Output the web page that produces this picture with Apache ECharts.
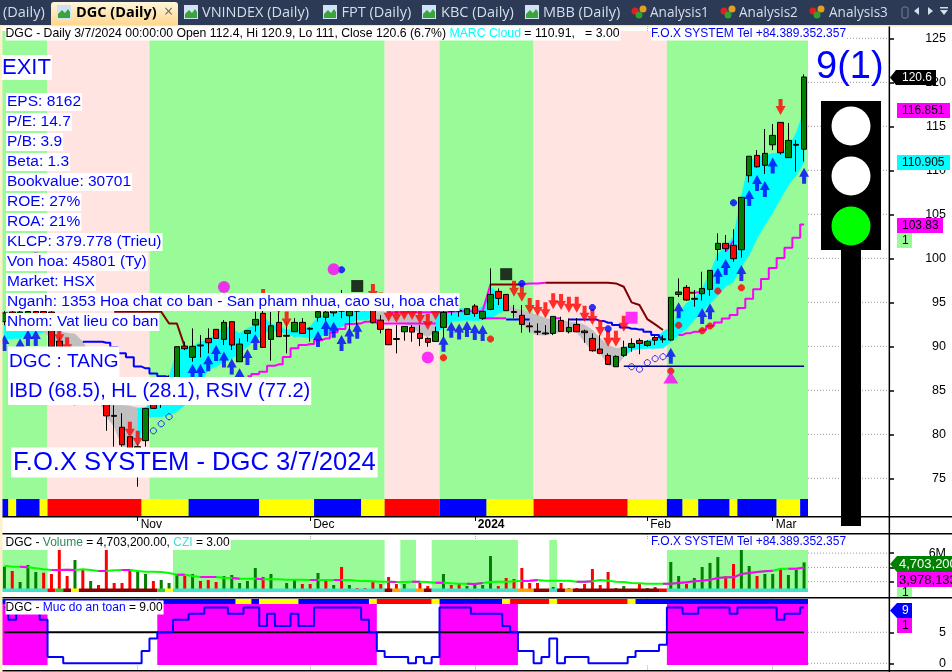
<!DOCTYPE html>
<html><head><meta charset="utf-8">
<style>html,body{margin:0;padding:0;background:#fff}#c{width:952px;height:672px}</style>
<script src="https://cdn.jsdelivr.net/npm/echarts@6/dist/echarts.min.js"></script>
</head><body><div id="c"></div>
<script>
const tradingDays = [
'2023-10-09','2023-10-10','2023-10-11','2023-10-12','2023-10-13','2023-10-16','2023-10-17','2023-10-18','2023-10-19','2023-10-20',
'2023-10-23','2023-10-24','2023-10-25','2023-10-26','2023-10-27','2023-10-30','2023-10-31','2023-11-01','2023-11-02','2023-11-03',
'2023-11-06','2023-11-07','2023-11-08','2023-11-09','2023-11-10','2023-11-13','2023-11-14','2023-11-15','2023-11-16','2023-11-17',
'2023-11-20','2023-11-21','2023-11-22','2023-11-23','2023-11-24','2023-11-27','2023-11-28','2023-11-29','2023-11-30','2023-12-01',
'2023-12-04','2023-12-05','2023-12-06','2023-12-07','2023-12-08','2023-12-11','2023-12-12','2023-12-13','2023-12-14','2023-12-15',
'2023-12-18','2023-12-19','2023-12-20','2023-12-21','2023-12-22','2023-12-25','2023-12-26','2023-12-27','2023-12-28','2023-12-29',
'2024-01-02','2024-01-03','2024-01-04','2024-01-05','2024-01-08','2024-01-09','2024-01-10','2024-01-11','2024-01-12','2024-01-15',
'2024-01-16','2024-01-17','2024-01-18','2024-01-19','2024-01-22','2024-01-23','2024-01-24','2024-01-25','2024-01-26','2024-01-29',
'2024-01-30','2024-01-31','2024-02-01','2024-02-02','2024-02-05','2024-02-06','2024-02-07','2024-02-15','2024-02-16','2024-02-19',
'2024-02-20','2024-02-21','2024-02-22','2024-02-23','2024-02-26','2024-02-27','2024-02-28','2024-02-29','2024-03-01','2024-03-04',
'2024-03-05','2024-03-06','2024-03-07'];
const blankFutureDays = ['2024-03-08','2024-03-11','2024-03-12','2024-03-13','2024-03-14','2024-03-15','2024-03-18','2024-03-19','2024-03-20','2024-03-21'];
const monthLabels = {'2023-11-01':'Nov','2023-12-01':'Dec','2024-01-02':'2024','2024-02-01':'Feb','2024-03-01':'Mar'};
const priceTicks = [75,80,85,90,95,100,105,110,115,120,125];
const volumeTicks = [2000000,4000000,6000000];
const safetyTicks = [0,5];

// [open, close, low, high]
const candles = [
[92.8,93.8,92.4,94],[93.9,93.2,92.9,94.1],[93.1,93.9,92.8,94.1],[93.2,93.95,92.9,94.2],[93.95,93.4,93,94.1],
[93.95,92.9,92.5,94.1],[93.9,89.96,89.7,94],[90.6,88.9,88.5,91],[89.2,88,87.4,89.8],[88.4,86.5,83.3,89],
[86.7,85.2,85,87],[86.7,85,84.6,87],[86.7,84.6,84,87],[86.7,82.1,80.4,87],[82.15,82.05,78.6,83.3],
[80.8,78.82,78.6,82.4],[79.73,78.2,78,79.8],[78.6,78,74.05,79],[79.28,82.95,78.6,83],[83.4,82.95,82.9,83.5],
[84,85.8,83,86],[84.5,86,83.5,86.7],[85.5,89.96,85,90],[90.03,89.73,89.58,90.53],[88.75,90,88.25,92.04],
[90.05,90.15,88.75,91.28],[90.9,90.41,89.2,92.04],[91.93,90.9,90.9,91.93],[90.79,92.72,90.15,92.99],[92.8,90.15,89.58,92.8],
[88.25,90.26,88.25,90.9],[91.47,91.78,90.53,91.8],[92.42,93.06,91.66,93.94],[93.75,89.88,89.88,94.12],[90.79,92.34,88.37,93.9],
[92.72,91.1,91.1,94.12],[91.25,91.15,89.2,92.8],[91.66,92.72,91.66,93.2],[92.72,91.47,91.4,93.2],[91.95,92.05,90.53,92.15],
[93.3,93.94,92.8,94.5],[93.3,93.9,92.9,94.3],[93.8,95,93.4,95.8],[94,95.3,93.2,96.4],[93.48,94,91.85,94.5],
[94,94.3,92.4,95],[95,94.4,94,95.4],[94.9,92.68,92.6,96],[92.98,91.93,91.47,93.55],[91.93,90.18,90.18,92],
[90.88,90.78,89.2,92.42],[91.66,92.27,90.64,92.3],[92.15,91.62,90.52,92.42],[91.47,90.9,90.03,92.42],[90.9,90.45,89.95,91],
[90.56,91.66,90.52,92.23],[92.15,93.86,91,96],[94,94.3,93.5,94.8],[94.1,94,93.36,94.69],[93.63,94.27,93.6,94.3],
[94.58,93.74,93.36,94.8],[93.18,93.97,93,94],[94.2,95.9,94.1,98.86],[96.24,95.45,94.69,96.58],[95.9,94.05,94.05,95.9],
[93.95,93.85,93.18,94.69],[93.52,92.49,91.55,94.69],[92.32,92.22,91.58,92.72],[91.71,91.61,91.28,92.6],[91.52,91.42,91.28,92.42],
[91.47,93.4,91.28,93.4],[92.95,91.7,91.66,93.36],[91.66,92.15,91.47,93.18],[92.49,91.66,91.6,93.2],[91.74,91.55,90.4,91.9],
[90.9,89.5,89.39,91.47],[89.69,89.2,89.1,91.28],[88.97,87.95,87.87,89.2],[87.68,88.86,87.68,88.97],[88.97,89.88,88.8,90.64],
[89.88,90.33,89.39,90.9],[90.67,90.33,89.1,90.9],[90.1,90.56,89.95,90.7],[91,90.7,90.14,91.28],[90.85,90.75,90.4,91.28],
[90.72,95.57,90.65,95.57],[95.9,96.17,95.6,97.72],[96.7,95.26,95.15,96.96],[95.45,95.35,94.5,96.4],[95.98,96.58,95.2,98.48],
[96.47,98.63,95.75,98.63],[101,101.7,99.73,102.84],[101.7,101.1,100.75,102.65],[101.48,99.96,99.6,103.3],[100.98,106.93,100.07,106.93],
[109.39,111.6,108.63,111.6],[111.7,110.4,110.3,112.3],[110.57,111.93,109.58,114.7],[112.9,113.97,112.3,115.26],[115.45,112,111.8,115.45],
[111.44,113.4,111.44,115.375],[112.95,112.85,109.85,113.44],[112.4,120.6,111,120.9]];

const cloudHigh = [92.5,92.6,92.8,93,93,92.5,91.7,91.7,91.5,91.4,90.5,89,87,84.5,83.3,83.3,83.2,83,83,84,85,86.5,89.5,89.9,
89.96,90.53,90.72,91.47,92.23,92.04,91.47,92.04,92.42,93.37,92.6,92.23,91.85,91.93,91.93,92.23,93.37,93.56,93.75,
94.31,94.31,94.31,94.31,93.93,93.85,93.85,93.85,93.85,93.85,93.85,93.85,93.74,93.93,94.12,94.31,94.31,94.12,94.5,96.77,96,94.88,94.31,94.12,93.82,93.55,93.18,92.99,92.92,92.8,92.68,92.42,91.85,90.9,90.14,89.77,89.88,90.07,90.41,90.64,90.9,91.66,92.2,93.75,94.9,95.45,96.6,98.3,100.56,101.3,102.5,107,111,111.55,111.7,111.9,112,112.7,114.2,116.85];
const cloudLow = [90.8,90.9,90.9,91.3,91.4,91.6,91,90,89.5,89,88,86,84,82,80.9,78.6,78.6,78.6,81.8,82,82,82.2,82.6,83.3,84.3,85.8,87.3,87.7,88.25,88.6,89.2,89.96,90.7,91.47,91.85,91.66,91.47,91.1,91.1,90.9,91.1,91.3,91.5,
92.23,92.6,93,93,93.18,93,92.8,92.8,92.6,92.23,91.47,91.09,91.66,92.04,92.8,92.92,92.99,92.92,92.99,93.18,93.7,94.2,93.55,92.6,91.66,91.28,91.28,91.47,91.66,91.66,91.66,90.52,89.5,89.2,87.87,87.68,88.82,89.58,89.7,89.77,89.77,89.8,90.5,91.3,92,93,93.9,94.9,95.8,96.8,97.35,99.05,100.4,102.27,103.8,105.2,106.8,108.33,109.47,110.9];
// first bar, last bar, colour of the cloud
const cloudTrend = [[0,5,'#00FFFF'],[6,17,'#C0C0C0'],[18,47,'#00FFFF'],[48,55,'#C0C0C0'],[56,64,'#00FFFF'],[65,79,'#C0C0C0'],[80,102,'#00FFFF']];

// trailing support line, [bar, price]
const supportBlue = [[10,90.53],[11,90.53],[12,90.53],[13,90.4],[14,89.9],[15,89.2],[16,88.75],[17,87.7],[18,87.5],[19,86.9],[20,86.6],[21,86.5],null,
[64,93.06],[65,93.06],[66,93.06],[67,93.06],null,[72,93.06],[73,93.06],[74,93.06],[75,93.06],[76,92.87],[77,92.68],[78,92.42],[79,92.15],[80,92],[81,91.9],[82,91.66],[83,91.28],[84,91]];
const supportMagenta = [[31,86.6],[32,86.85],[33,87.1],[34,87.8],[35,87.95],[36,88.8],[37,89.77],[38,90.15],[39,90.26],[40,90.7],[41,90.9],[42,91.6],[43,91.96],[44,92.53],[45,92.6],[46,92.8],[47,93],[48,92.6],[49,92.6],[50,92.6],[51,92.6],[52,92.6],[53,92.6],[54,92.6],[55,92.6],null,
[61,93.18],[62,93.18],[63,93.18],[64,93.18],null,[70,93.18],[71,93.18],null,
[86,91.3],[87,91.5],[88,91.65],[89,91.85],[90,92.3],[91,92.7],[92,93.15],[93,93.55],[94,94.35],[95,95.4],[96,96.5],[97,97.65],[98,98.9],[99,100.05],[100,101.2],[101,102.35],[102,103.83]];
// stop line above the price, [bar, price]
const stopMaroon = [[14,93.93],[15,93.93],[16,93.93],[17,93.93],[18,93.93],[19,93.93],[20,93.93],[21,92.6],[22,92.6],[23,89.96],null,
[62,97.04],[63,97.04],[64,97.04],[65,97.04],[66,97.04],null,[69,97.23],[70,97.23],[71,97.23],[72,97.23],[73,97.23],[74,97.23],[75,97.23],[76,97.23],[77,97.23],[78,97.15],[79,96.77],[80,94.99],[81,94.69],[82,93.1],[83,92.5],[84,91.85],null,[87,96.1],[88,96.1]];
const stopMagenta = [[49,93.86],[50,93.86],[51,93.86],[52,93.86],[53,93.86],[54,93.86],[55,93.86],[56,93.86],[57,93.93],[58,94],[59,94],[60,94],[61,94],[62,97.04],null,[66,97.04],[67,97.15],[68,97.15],[69,97.23],null,[88,96.1],[89,96.2],null,[92,100.75],[93,102]];
const floorLine = [[79,87.75],[102,87.75]];

// marks: [bar, price]
const blueUpArrows = [[0,91.28],[2,90.9],[3,91.85],[4,91.85],[24,87.99],[25,87.99],[26,89],[27,90.15],[28,89.4],[29,88.63],[30,87.5],[31,89.69],[32,91.4],[40,91.74],[41,92.99],[42,92.8],[43,91.28],[44,92.15],[45,92.68],[56,91.2],[57,92.8],[58,92.6],[59,92.87],[60,92.53],[61,92.42],[85,89.85],[86,95],[89,94.35],[90,94.9],[91,98.93],[92,99.92],[94,99.24],[95,107.76],[96,109.47],[97,108.78],[98,111.47],[102,110.3]];
const redDownArrows = [[7,90.34],[8,89.2],[16,79.6],[17,78.6],[33,94.69],[35,93.73],[36,92.15],[47,95.26],[48,94.3],[49,92.8],[50,92.68],[51,93],[52,93],[53,92.53],[54,91.85],[55,93],[65,95.64],[66,95.07],[67,93.67],[68,93.44],[69,93.18],[70,94.2],[71,94.12],[72,93.82],[73,93.82],[74,92.8],[75,92.42],[76,91.17],[77,89.95],[78,89.95],[79,91.66],[99,116.28]];
const redDiamonds = [[56,88.7],[62,90.83],[85,87.19],[86,92.4],[89,91.77],[90,92.3],[91,96.28],[94,96.66]];
const blueDiamonds = [[43,98.7],[66,97.15],[75,94.42],[77,92],[93,106.32]];
const hollowDiamonds = [[19,80.4],[20,81.2],[21,82],[80,87.68],[81,87.4],[82,88.14],[83,88.6],[84,88.82]];
const magentaCircles = [[4,100],[28,96.75],[42,98.75],[54,88.74]];
const blackSquares = [[45,96.85],[64,98.2]];
const magentaSquares = [[80,93.25]];
const magentaTriangles = [[85,86.47]];

// background bands: first bar, last bar, colour
const trendBands = [[0,5,'#98FB98'],[6,18,'#FFE4E1'],[19,48,'#98FB98'],[49,55,'#FFE4E1'],[56,67,'#98FB98'],[68,84,'#FFE4E1'],[85,102,'#98FB98']];
const signalStrip = [[0,0,'#0000FF'],[1,1,'#FFFF00'],[2,4,'#0000FF'],[5,5,'#FFFF00'],[6,17,'#FF0000'],[18,23,'#FFFF00'],[24,32,'#0000FF'],[33,39,'#FFFF00'],[40,45,'#0000FF'],[46,48,'#FFFF00'],[49,55,'#FF0000'],[56,61,'#0000FF'],[62,67,'#FFFF00'],[68,79,'#FF0000'],[80,84,'#FFFF00'],[85,86,'#0000FF'],[87,88,'#FFFF00'],[89,92,'#0000FF'],[93,93,'#FFFF00'],[94,98,'#0000FF'],[99,101,'#FFFF00'],[102,102,'#0000FF']];

const volume = [4100000,3500000,1960000,4340000,3360000,3260000,3080000,6430000,2800000,5030000,
3780000,2100000,1540000,6430000,1820000,1820000,3780000,3500000,3080000,2100000,
2240000,1820000,3080000,2800000,3080000,2100000,2240000,1960000,2800000,2940000,
1820000,2100000,3920000,2660000,3080000,840000,1820000,2380000,1680000,1680000,
3220000,2100000,1540000,4060000,1540000,1120000,1120000,1960000,1680000,2660000,
1680000,1680000,980000,1820000,1400000,980000,3080000,1540000,1680000,1400000,
1680000,1540000,5590000,1400000,2520000,2380000,3920000,1820000,1820000,840000,
1260000,1820000,1120000,1120000,1680000,3780000,1540000,3360000,1120000,1400000,
840000,1680000,1120000,1260000,840000,4760000,2800000,1680000,2520000,4060000,
4620000,5450000,2800000,4480000,6430000,4200000,2800000,3080000,3080000,3920000,
2940000,3640000,4703200];
const volumeSide = 'grgggrrrrg'+'rgrrrrrggr'+'gggrgrrrgg'+'gggrgrggrr'+'grgrgrrrrr'+'rgrrrggrrg'+'gggrrrrrrg'+'grgrrrrrgg'+'grgrrggrgg'+'ggrrggrggr'+'ggg';
const volumeAvg = [4240000,4100000,4100000,4010000,3870000,3730000,3640000,3640000,3680000,3640000,
3730000,3640000,3500000,3500000,3590000,3640000,3640000,3500000,3400000,3400000,
3360000,3220000,2980000,2980000,2800000,2660000,2660000,2660000,2560000,2520000,
2420000,2420000,2420000,2330000,2330000,2330000,2280000,2280000,2280000,2240000,
2240000,2240000,2240000,2240000,2240000,2140000,2100000,2050000,2000000,2000000,
1960000,1960000,2000000,2000000,1960000,1860000,1860000,1770000,1720000,1720000,
1680000,1820000,1960000,2000000,2000000,2050000,2100000,2140000,2240000,2140000,
2140000,2140000,2140000,2000000,2000000,2050000,2240000,2140000,2000000,1960000,
1820000,1770000,1720000,1720000,1720000,1720000,1820000,1910000,2050000,2140000,
2280000,2520000,2610000,2610000,3080000,3220000,3360000,3450000,3540000,3820000,
3820000,3820000,3978133];
const volumeAvgMagentaRuns = [[2,3],[6,9],[12,13],[15,16],[22,23],[25,27],[29,30],[32,33],[39,40],[42,43],[49,50],[52,53],[55,56],[59,61],[66,68],[73,75],[84,92],[93,98],[100,102]];
// first bar, last bar, top of the band in shares
const volumeBands = [[0,5,6430000],[22,48,7830000],[51,52,7830000],[55,65,7830000],[70,70,7830000],[85,102,6430000]];
const cziStrip = [[0,5,'#40E0D0'],[6,6,'#FF0000'],[7,7,'#32CD32'],[8,8,'#8B0000'],[9,9,'#FFFF00'],[10,19,'#8B0000'],[20,20,'#32CD32'],[21,21,'#FFFF00'],[22,48,'#40E0D0'],[49,49,'#8B0000'],[50,50,'#FFA500'],[51,52,'#40E0D0'],[53,53,'#FFA500'],[54,54,'#8B0000'],[55,65,'#40E0D0'],[66,67,'#FFA500'],[68,69,'#8B0000'],[70,70,'#40E0D0'],[71,71,'#8B0000'],[72,72,'#FFA500'],[73,83,'#8B0000'],[84,84,'#FF0000'],[85,102,'#40E0D0']];

const safety = [9,7,9,9,9,7,1,1,0,0,0,0,0,0,0,0,0,0,2,4,5,5,7,7,8,8,9,9,9,8,8,9,9,6,8,6,6,8,6,6,9,9,9,9,9,9,7,5,2,1,1,1,0,1,0,1,9,9,9,9,8,8,8,8,6,5,2,2,0,1,4,0,1,1,1,0,0,0,0,0,1,2,2,2,3,9,9,8,8,9,9,9,9,8,9,9,9,9,9,7,8,8,9];
const safetyLevel = [[0,5],[102,5]];
const safetyBands = [[0,5],[20,47],[56,65],[85,102]];
const safetyStrip = [[0,19,'#0000FF'],[20,29,'#0000FF'],[30,31,'#FFFF00'],[32,32,'#0000FF'],[33,37,'#FFFF00'],[38,46,'#0000FF'],[47,47,'#FFFF00'],[48,54,'#FF0000'],[55,55,'#FFFF00'],[56,63,'#0000FF'],[64,64,'#FFFF00'],[65,69,'#FF0000'],[70,70,'#FFFF00'],[71,79,'#FF0000'],[80,80,'#FFFF00'],[81,102,'#0000FF']];

const fontName = '"Liberation Sans", Arial, sans-serif';
const categories = tradingDays.concat(blankFutureDays);
const lastBar = tradingDays.length - 1;

function spanBox(api, seg, top, bottom) {
  const w = api.size([1, 0])[0];
  const a = api.coord([seg[0], top]), b = api.coord([seg[1], bottom]);
  return {x: a[0] - w / 2, y: a[1], width: b[0] - a[0] + w, height: b[1] - a[1]};
}
function segmentSeries(grid, segs, z, boxOf) {
  return {type: 'custom', xAxisIndex: grid, yAxisIndex: grid, z, silent: true, clip: true,
    data: segs.map((s, i) => [s[0], i]), encode: {x: 0},
    renderItem: (p, api) => {
      const seg = segs[p.dataIndex];
      const r = boxOf(seg, api, p.coordSys);
      return {type: 'rect', shape: r.shape, style: {fill: r.fill}};
    }};
}
const byValue = (top, bottom, color) => (seg, api) => ({shape: spanBox(api, seg, top, bottom), fill: color || seg[2]});
const byPixels = (fromTop, height, color) => (seg, api, cs) => {
  const s = spanBox(api, seg, 0, 0);
  return {shape: {x: s.x, width: s.width, y: cs.y + fromTop, height}, fill: color || seg[2]};
};
// dotted level marks in the empty margin right of the last bar, up to the price axis
function marginGridSeries(grid, ticks) {
  return {type: 'custom', xAxisIndex: grid, yAxisIndex: grid, z: 0, silent: true, clip: false,
    data: ticks.map((t, i) => [lastBar, t]), encode: {x: 0, y: 1},
    renderItem: (p, api) => {
      const t = ticks[p.dataIndex];
      const pt = api.coord([lastBar, t]), w = api.size([1, 0])[0];
      return {type: 'line', shape: {x1: pt[0] + w / 2, x2: p.coordSys.x + p.coordSys.width + 2.6, y1: pt[1], y2: pt[1]},
        style: {stroke: '#999', lineWidth: 1, lineDash: [1, 2]}};
    }};
}

function scatterMarks(data, symbol, size, color, offset, extra) {
  return Object.assign({type: 'scatter', xAxisIndex: 0, yAxisIndex: 0, z: 6, silent: true, data, symbol, symbolSize: size,
    symbolOffset: offset || [0, 0], itemStyle: {color}, animation: false}, extra || {});
}
function lineOf(grid, data, color, width, z, step) {
  return {type: 'line', xAxisIndex: grid, yAxisIndex: grid, data, z, silent: true, showSymbol: false, symbol: 'none',
    connectNulls: false, step: step || false, lineStyle: {color, width}, animation: false};
}
const cloudSeries = {type: 'custom', xAxisIndex: 0, yAxisIndex: 0, z: 2, silent: true,
  data: cloudHigh.slice(0, -1).map((h, i) => [i, h]), encode: {x: 0},
  renderItem: (p, api) => {
    const i = p.dataIndex;
    const t = cloudTrend.find(s => i + 1 >= s[0] && i + 1 <= s[1]);
    return {type: 'polygon', shape: {points: [api.coord([i, cloudHigh[i]]), api.coord([i + 1, cloudHigh[i + 1]]), api.coord([i + 1, cloudLow[i + 1]]), api.coord([i, cloudLow[i]])]},
      style: {fill: t[2], stroke: t[2], lineWidth: 0.6}};
  }};

const octagon = 'path://M3 0L5 0L7 2L7 4L5 6L3 6L1 4L1 2Z';
const series = [
  marginGridSeries(0, priceTicks),
  marginGridSeries(1, volumeTicks),
  marginGridSeries(2, safetyTicks),
  segmentSeries(0, trendBands, 1, (seg, api, cs) => { const s = spanBox(api, seg, 0, 0); return {shape: {x: s.x, width: s.width, y: cs.y + 5, height: cs.height - 5}, fill: seg[2]}; }),
  segmentSeries(0, signalStrip, 3, byPixels(473, 17)),
  cloudSeries,
  lineOf(0, supportBlue, '#0000FF', 2, 3, 'middle'),
  lineOf(0, supportMagenta, '#FF00FF', 2, 3, 'middle'),
  lineOf(0, stopMaroon, '#800000', 2, 3),
  lineOf(0, stopMagenta, '#FF00FF', 2, 3),
  lineOf(0, floorLine, '#000080', 1.5, 3),
  {type: 'candlestick', xAxisIndex: 0, yAxisIndex: 0, z: 5, silent: true, barWidth: 6, data: candles,
    itemStyle: {color: '#008000', color0: '#FF0000', borderColor: '#000', borderColor0: '#000', borderWidth: 1}, animation: false},
  scatterMarks(blueUpArrows, 'path://M5 0L10 9L7 9L7 16L3 16L3 9L0 9Z', [10, 16], '#0000FF', [0, '50%']),
  scatterMarks(redDownArrows, 'path://M5 16L10 7L7 7L7 0L3 0L3 7L0 7Z', [10, 16], '#FF0000', [0, '-50%']),
  scatterMarks(redDiamonds, octagon, 7, '#FF0000'),
  scatterMarks(blueDiamonds, octagon, 7, '#0000FF'),
  scatterMarks(hollowDiamonds, octagon, 6, 'rgba(255,255,255,0)', null, {itemStyle: {color: 'rgba(255,255,255,0)', borderColor: '#0000FF', borderWidth: 1}}),
  scatterMarks(magentaCircles, 'circle', 12, '#FF00FF'),
  scatterMarks(blackSquares, 'rect', 12, '#000'),
  scatterMarks(magentaSquares, 'rect', 12, '#FF00FF'),
  scatterMarks(magentaTriangles, 'triangle', [15, 12], '#FF00FF'),

  segmentSeries(1, [[0, lastBar]], 0.9, byValue(7830000, 560000, '#FFF')),
  segmentSeries(1, volumeBands, 1, (seg, api) => ({shape: spanBox(api, seg, seg[2], 560000), fill: '#98FB98'})),
  {type: 'bar', xAxisIndex: 1, yAxisIndex: 1, z: 3, silent: true, barWidth: 3, animation: false,
    data: volume.map((v, i) => ({value: v, itemStyle: {color: volumeSide[i] === 'g' ? '#008000' : '#FF0000'}}))},
  segmentSeries(1, cziStrip, 4, byPixels(54.5, 3.5)),
  lineOf(1, volumeAvg, '#00FF00', 2, 5),
  lineOf(1, volumeAvg.map((v, i) => volumeAvgMagentaRuns.some(r => i >= r[0] && i <= r[1]) ? v : null), '#FF00FF', 2, 6),

  segmentSeries(2, [[0, lastBar]], 0.9, byValue(9.56, -0.27, '#FFF')),
  segmentSeries(2, safetyBands, 1, byValue(9.56, -0.27, '#FF00FF')),
  segmentSeries(2, safetyStrip, 3, byPixels(1.5, 5)),
  lineOf(2, safetyLevel, '#000', 2, 4),
  lineOf(2, safety, '#0000FF', 2, 5, 'middle')
];

function xAxisFor(grid, withLabels) {
  return {type: 'category', gridIndex: grid, data: categories, boundaryGap: true, axisLine: {show: false},
    axisTick: {show: withLabels, alignWithLabel: true, length: 5, interval: (i, v) => v in monthLabels, lineStyle: {color: '#000', width: 1}},
    axisLabel: withLabels ? {show: true, interval: (i, v) => v in monthLabels, align: 'left', margin: 3, padding: [0, 0, 0, 3], color: '#000', fontFamily: fontName, fontSize: 12,
      formatter: v => monthLabels[v] === '2024' ? '{b|2024}' : (monthLabels[v] || ''), rich: {b: {fontWeight: 'bold', fontFamily: fontName, fontSize: 12, color: '#000'}}} : {show: false},
    splitLine: {show: true, alignWithLabel: true, interval: (i, v) => v in monthLabels, lineStyle: {color: '#aaa', type: 'dotted'}}};
}
function yAxisFor(grid, min, max, ticks, fmt) {
  return {type: 'value', gridIndex: grid, position: 'right', offset: 2.6, min, max, axisLine: {show: false},
    axisTick: {show: true, length: 5, customValues: ticks, lineStyle: {color: '#000', width: 1.5}},
    axisLabel: {show: true, customValues: ticks, align: 'right', margin: 57, color: '#000', fontFamily: fontName, fontSize: 12.5, formatter: fmt || (v => String(v))},
    splitLine: {show: false}};
}

// page furniture
const Z = 100;
const g = [];
const rect = (x, y, w, h, fill, z) => g.push({type: 'rect', z: z || Z, silent: true, shape: {x, y, width: w, height: h}, style: {fill}});
const poly = (pts, fill, z) => g.push({type: 'polygon', z: z || Z, silent: true, shape: {points: pts}, style: {fill}});
const disc = (cx, cy, r, fill) => g.push({type: 'circle', z: Z + 2, silent: true, shape: {cx, cy, r}, style: {fill}});
const hline = (y, w) => rect(0, y, 952, w || 1.5, '#000', Z);
function text(str, x, y, font, fill, bg, pad, rich) {
  const style = {text: str, x, y, font, fill, verticalAlign: 'middle', align: 'left'};
  if (bg) { style.backgroundColor = bg; style.padding = pad || [1, 1, 1, 1]; }
  if (rich) style.rich = rich;
  g.push({type: 'text', z: Z + 3, silent: true, style});
}
rect(0, 0, 952, 25, '#2C3A56', Z + 1);
rect(0, 25, 952, 1.5, '#FFE6A8', Z + 1);
rect(0, 25, 2.5, 647, '#FDF1CC', Z + 1);
g.push({type: 'rect', z: Z + 1, silent: true, shape: {x: 51, y: 2, width: 127, height: 23, r: [3, 3, 0, 0]},
  style: {fill: {type: 'linear', x: 0, y: 0, x2: 0, y2: 1, colorStops: [{offset: 0, color: '#FFF6DC'}, {offset: 1, color: '#FFD78E'}]}}});
const tabFont = '14.5px "Open Sans", "Noto Sans", sans-serif';
const tabTexts = [['(Daily)', 3], ['VNINDEX (Daily)', 202], ['FPT (Daily)', 341.5], ['KBC (Daily)', 441], ['MBB (Daily)', 543]];
tabTexts.forEach(t => text(t[0], t[1], 13, tabFont, '#D5DEEC'));
[['Analysis1', 650], ['Analysis2', 739], ['Analysis3', 829]].forEach(t => text(t[0], t[1], 13, '13.6px "Open Sans", "Noto Sans", sans-serif', '#D5DEEC'));
text('DGC (Daily)', 76, 13, 'bold 14.5px "Open Sans", "Noto Sans", sans-serif', '#000');
text('×', 164, 12, '16px "Open Sans", sans-serif', '#6B6B6B');
[57, 184, 323, 422, 525].forEach(x => {
  rect(x, 5, 14, 14, '#CFE3F5', Z + 2);
  poly([[x + 1, 18], [x + 1, 14], [x + 5, 10], [x + 8, 13], [x + 11, 9], [x + 13, 12], [x + 13, 18]], '#3BA33B', Z + 3);
});
[632, 721, 810].forEach(x => {
  disc(x + 3, 11, 3.5, '#E02020'); disc(x + 11, 9, 3.5, '#E0A020'); disc(x + 7, 15, 3.5, '#30A030');
});
g.push({type: 'rect', z: Z + 2, silent: true, shape: {x: 902, y: 7, width: 6, height: 11, r: 2}, style: {fill: 'none', stroke: '#77808F', lineWidth: 1}});
poly([[914, 11], [919, 7], [919, 15]], '#D5DEEC', Z + 2);
poly([[933, 11], [928, 7], [928, 15]], '#D5DEEC', Z + 2);
rect(940, 7, 8, 1.5, '#D5DEEC', Z + 2);
poly([[940, 10], [948, 10], [944, 15]], '#D5DEEC', Z + 2);

hline(516); hline(533); hline(597); hline(670);
rect(888.6, 26, 1.5, 646, '#000');

// traffic light
rect(841, 250, 20, 276, '#000', Z + 1);
rect(821, 101, 60, 149, '#000', Z + 1);
disc(851, 126, 19.5, '#FFF'); disc(851, 176, 19.5, '#FFF'); disc(851, 226, 19.5, '#00FF00');
text('9(1)', 816, 68, '38px ' + fontName, '#0000FF');

// captions
const hdr = '12.25px ' + fontName, small = '12px ' + fontName;
text('{k|DGC - Daily 3/7/2024 00:00:00 Open 112.4, Hi 120.9, Lo 111, Close 120.6 (6.7%) }{c|MARC Cloud}{k| = 110.91,   = 3.00}', 5.5, 33.5, hdr, '#000', '#FFF', [1, 1, 1, 0],
  {k: {fill: '#000', font: hdr}, c: {fill: '#00FFFF', font: hdr}});
text('F.O.X SYSTEM Tel +84.389.352.357', 651, 33.5, small, '#0000FF', '#FFF', [1, 1, 1, 0]);
text('{k|DGC - }{v|Volume}{k| = 4,703,200.00, }{c|CZI}{k| = 3.00}', 5.5, 543, small, '#000', '#FFF', [1, 1, 1, 0],
  {k: {fill: '#000', font: small}, v: {fill: '#2E8B57', font: small}, c: {fill: '#40E0D0', font: small}});
text('F.O.X SYSTEM Tel +84.389.352.357', 651, 542, small, '#0000FF');
text('{k|DGC - }{b|Muc do an toan}{k| = 9.00}', 5.5, 607.5, small, '#000', '#FFF', [1, 1, 1, 0],
  {k: {fill: '#000', font: small}, b: {fill: '#0000FF', font: small}});
text('EXIT', 2, 67.5, '22px ' + fontName, '#0000FF', '#FFF', [2, 1, 1, 0]);
const infoFont = '15.5px ' + fontName;
const infoLines = ['EPS: 8162', 'P/E: 14.7', 'P/B: 3.9', 'Beta: 1.3', 'Bookvalue: 30701', 'ROE: 27%', 'ROA: 21%', 'KLCP: 379.778 (Trieu)', 'Von hoa: 45801 (Ty)', 'Market: HSX', 'Nganh: 1353 Hoa chat co ban - San pham nhua, cao su, hoa chat', 'Nhom: Vat lieu co ban'];
infoLines.forEach((t, i) => text(t, 6, 102 + i * 20, infoFont, '#0000FF', '#FFF', [1, 1, 1, 1]));
text('DGC : TANG', 8, 362, '19px ' + fontName, '#0000FF', '#FFF', [6, 1, 6, 1]);
text('IBD (68.5), HL (28.1), RSIV (77.2)', 8, 391, '20px ' + fontName, '#0000FF', '#FFF', [4, 1, 4, 1]);
text('F.O.X SYSTEM - DGC 3/7/2024', 11, 462.5, '25.6px ' + fontName, '#0000FF', '#FFF', [2, 2, 2, 2]);

// value tags
function tag(str, x0, x1, y0, y1, fill, ink, tipped, tx, font) {
  if (tipped) poly([[890, (y0 + y1) / 2], [x0, y0], [x1, y0], [x1, y1], [x0, y1]], fill, Z + 2);
  else rect(x0, y0, x1 - x0, y1 - y0, fill, Z + 2);
  text(str, tx || 902, (y0 + y1) / 2 + 0.5, font || ('12px ' + fontName), ink);
}
const volTag = '13px ' + fontName;
tag('120.6', 896, 936, 70, 85, '#000', '#FFF', true);
tag('116.851', 897, 950, 103, 118, '#FF00FF', '#000');
tag('110.905', 897, 950, 155, 170, '#00FFFF', '#000');
tag('103.83', 897, 943, 218, 233, '#FF00FF', '#000');
tag('1', 897, 912, 233, 248, '#98FB98', '#000');
tag('4,703,200', 897, 952, 556, 572, '#008000', '#FFF', true, 899, volTag);
tag('3,978,133', 897, 952, 572, 587, '#FF00FF', '#000', false, 899, volTag);
tag('1', 897, 912, 587, 597, '#98FB98', '#000');
tag('9', 897, 912, 603, 618, '#0000FF', '#FFF', true);
tag('1', 897, 912, 618, 633, '#FF00FF', '#000');

const chart = echarts.init(document.getElementById('c'), null, {renderer: 'canvas'});
chart.setOption({
  animation: false, backgroundColor: '#fff', tooltip: {show: false},
  grid: [
    {left: 0.5, top: 26, width: 885.9, height: 490},
    {left: 0.5, top: 534, width: 885.9, height: 58},
    {left: 0.5, top: 597.5, width: 885.9, height: 72.5}
  ],
  xAxis: [xAxisFor(0, true), xAxisFor(1, false), xAxisFor(2, false)],
  yAxis: [
    yAxisFor(0, 70.72, 126.4, priceTicks),
    yAxisFor(1, 560000, 8670000, volumeTicks, v => (v / 1e6) + 'M'),
    yAxisFor(2, -1.08, 10.6, safetyTicks)
  ],
  series, graphic: g
});
</script></body></html>
